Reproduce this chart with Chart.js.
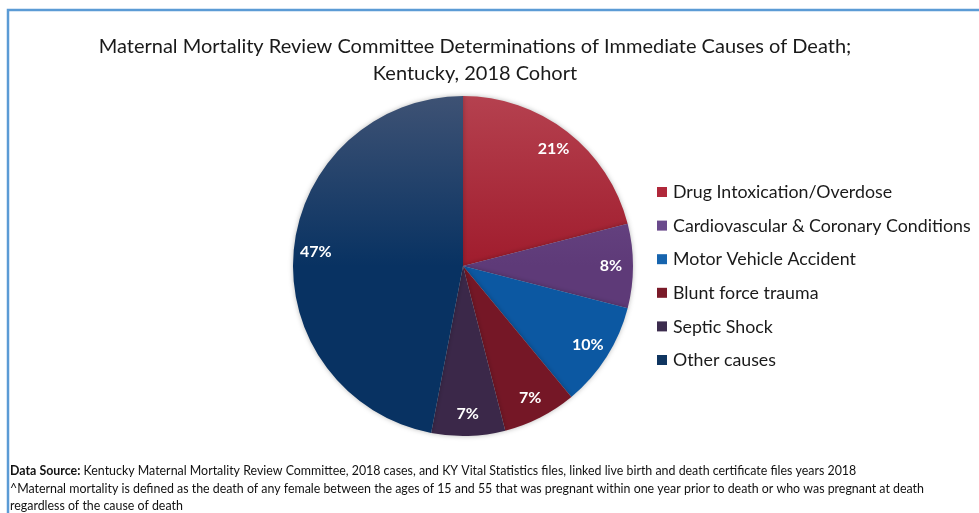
<!DOCTYPE html>
<html>
<head>
<meta charset="utf-8">
<script src="https://cdn.jsdelivr.net/npm/chart.js@4.4.1/dist/chart.umd.min.js"></script>
<style>
  html, body { margin: 0; padding: 0; background: #fff; }
  #wrap { position: relative; width: 979px; height: 513px; }
</style>
</head>
<body>
<div id="wrap"><canvas id="c" width="979" height="513"></canvas></div>
<script>
// Immediate causes of death, share of cases (%)
const causes = [
  'Drug Intoxication/Overdose',
  'Cardiovascular & Coronary Conditions',
  'Motor Vehicle Accident',
  'Blunt force trauma',
  'Septic Shock',
  'Other causes'
];
const shares = [21, 8, 10, 7, 7, 47];

// Slice shading: lighter tone at the top of the pie, deeper tone further down
const topColors    = ['#b5414f', '#735392', '#2c74b8', '#8c2c38', '#4c3c5e', '#3e5274'];
const bottomColors = ['#a01c2d', '#5e3a78', '#0c58a2', '#751726', '#3b2849', '#083262'];
const legendColors = ['#b0283a', '#6a4a8c', '#1664ae', '#7a1a28', '#3c2c4e', '#0f3560'];

const titleLines = [
  'Maternal Mortality Review Committee Determinations of Immediate Causes of Death;',
  'Kentucky, 2018 Cohort'
];
const sourceBold = 'Data Source:';
const sourceText = ' Kentucky Maternal Mortality Review Committee, 2018 cases, and KY Vital Statistics files, linked live birth and death certificate files years 2018';
const noteLines = [
  '^Maternal mortality is defined as the death of any female between the ages of 15 and 55 that was pregnant within one year prior to death or who was pregnant at death',
  'regardless of the cause of death'
];

const FONT = 'Lato, "Open Sans", sans-serif';

function sliceFill(ctx) {
  const chart = ctx.chart;
  const area = chart.chartArea;
  if (!area) return legendColors[ctx.dataIndex];
  const g = chart.ctx.createLinearGradient(0, area.top, 0, area.bottom);
  g.addColorStop(0, topColors[ctx.dataIndex]);
  g.addColorStop(0.5, bottomColors[ctx.dataIndex]);
  g.addColorStop(1, bottomColors[ctx.dataIndex]);
  return g;
}

// Frame, title, legend and footnote drawn on the canvas
const decor = {
  id: 'decor',
  beforeDraw(chart) {
    const c = chart.ctx;
    c.save();
    c.fillStyle = '#ffffff';
    c.fillRect(0, 0, chart.width, chart.height);
    c.strokeStyle = '#5b9bd5';
    c.lineWidth = 2.5;
    c.beginPath();
    c.moveTo(8, chart.height);
    c.lineTo(8, 10);
    c.lineTo(chart.width, 10);
    c.stroke();
    c.restore();
  },
  beforeDatasetsDraw(chart) {
    const c = chart.ctx;
    c.save();
    c.shadowColor = 'rgba(0,0,0,0.28)';
    c.shadowBlur = 5;
  },
  afterDatasetsDraw(chart) {
    chart.ctx.restore();
  },
  afterDraw(chart) {
    const c = chart.ctx;
    c.save();
    // title
    c.fillStyle = '#1a1a1a';
    c.textAlign = 'center';
    c.textBaseline = 'middle';
    c.font = '20px ' + FONT;
    c.fillText(titleLines[0], 475, 47);
    c.fillText(titleLines[1], 475, 74);

    // percentage labels inside the slices
    const meta = chart.getDatasetMeta(0);
    c.font = 'bold 16px ' + FONT;
    c.fillStyle = '#ffffff';
    meta.data.forEach((arc, i) => {
      const p = arc.getProps(['x', 'y', 'startAngle', 'endAngle', 'outerRadius'], true);
      const mid = (p.startAngle + p.endAngle) / 2;
      const r = p.outerRadius * 0.87;
      c.fillText(shares[i] + '%', p.x + Math.cos(mid) * r, p.y + Math.sin(mid) * r);
    });

    // legend
    c.textAlign = 'left';
    c.font = '17.8px ' + FONT;
    causes.forEach((name, i) => {
      const y = 192 + i * 33.6;
      c.fillStyle = legendColors[i];
      c.fillRect(657, y - 5, 10, 10);
      c.fillStyle = '#1a1a1a';
      c.fillText(name, 673, y + 0.5);
    });

    // footnote
    c.font = 'bold 12.4px ' + FONT;
    c.fillStyle = '#111';
    c.fillText(sourceBold, 10, 471);
    const w = c.measureText(sourceBold).width;
    c.font = '12.4px ' + FONT;
    c.fillText(sourceText, 10 + w, 471);
    noteLines.forEach((t, i) => c.fillText(t, 10, 489 + i * 17));
    c.restore();
  }
};

new Chart(document.getElementById('c'), {
  type: 'pie',
  data: {
    labels: causes,
    datasets: [{
      data: shares,
      backgroundColor: sliceFill,
      borderWidth: 0,
      hoverOffset: 0
    }]
  },
  options: {
    responsive: false,
    animation: false,
    events: [],
    layout: { padding: { left: 293, right: 346, top: 96, bottom: 77 } },
    plugins: {
      legend: { display: false },
      tooltip: { enabled: false },
      title: { display: false }
    }
  },
  plugins: [decor]
});
</script>
</body>
</html>
